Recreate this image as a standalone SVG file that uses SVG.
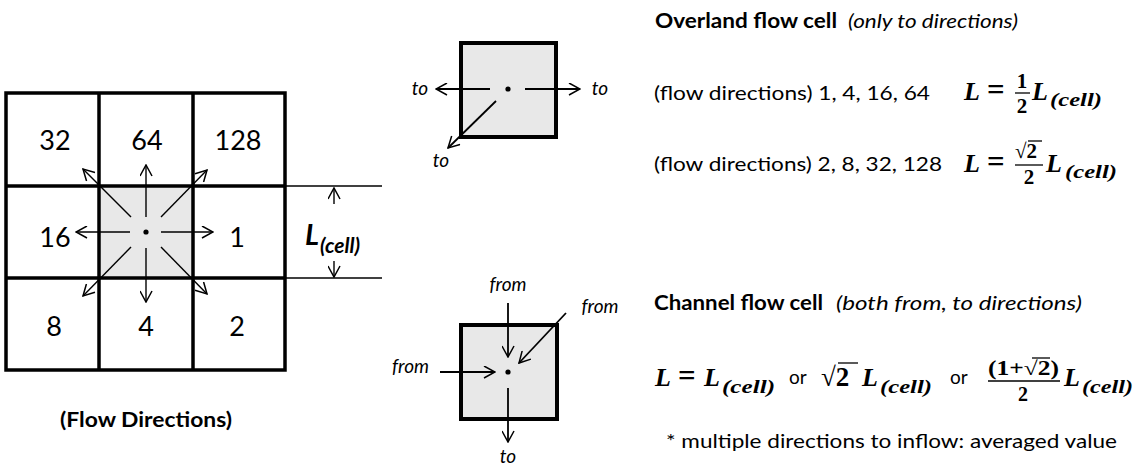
<svg xmlns="http://www.w3.org/2000/svg" width="1144" height="476" viewBox="0 0 1144 476">
<style>
.sans{font-family:Lato,"Liberation Sans",sans-serif;fill:#000}
.num{font-size:27px;text-anchor:middle}
.lbl{font-style:italic;font-size:19px}
.bold{font-weight:bold}
.ital{font-style:italic}
.math{font-family:"Liberation Serif","DejaVu Serif",serif;font-weight:bold;font-style:italic;fill:#000}
.mup{font-family:"Liberation Serif","DejaVu Serif",serif;font-weight:bold;fill:#000}
.grid{fill:none;stroke:#000;stroke-width:3.5}
.arr{fill:none;stroke:#000;stroke-width:1.4;marker-end:url(#ah)}
.arr2{fill:none;stroke:#000;stroke-width:1.8;marker-end:url(#ah)}
.cell{fill:#e8e8e8;stroke:#000;stroke-width:4}
.thin{fill:none;stroke:#000;stroke-width:1.3}
.bar{stroke:#000;stroke-width:1.3}
</style>
<defs>
<marker id="ah" viewBox="0 0 13 13" refX="12" refY="6.5" markerWidth="13" markerHeight="13" markerUnits="userSpaceOnUse" orient="auto">
<path d="M1,0.5 L12,6.5 L1,12.5" fill="none" stroke="#000" stroke-width="1.5"/>
</marker>
</defs>

<g id="grid">
<rect x="99" y="186" width="94" height="92" fill="#e8e8e8"/>
<rect class="grid" x="6" y="93" width="279" height="277" stroke-width="4"/>
<line class="grid" x1="99" y1="93" x2="99" y2="370"/>
<line class="grid" x1="193" y1="93" x2="193" y2="370"/>
<line class="grid" x1="6" y1="186" x2="285" y2="186"/>
<line class="grid" x1="6" y1="278" x2="285" y2="278"/>
<circle cx="146" cy="232" r="2.6" fill="#000"/>
<text class="sans num" x="55" y="150">32</text>
<text class="sans num" x="147" y="150">64</text>
<text class="sans num" x="238" y="150">128</text>
<text class="sans num" x="55" y="247">16</text>
<text class="sans num" x="237" y="247">1</text>
<text class="sans num" x="54" y="336">8</text>
<text class="sans num" x="146" y="336">4</text>
<text class="sans num" x="237" y="336">2</text>
<text class="sans bold" x="146" y="427" font-size="20" text-anchor="middle" textLength="172" lengthAdjust="spacingAndGlyphs">(Flow Directions)</text>
</g>

<g id="dimension">
<line class="thin" x1="285" y1="186" x2="382" y2="186"/>
<line class="thin" x1="285" y1="278" x2="382" y2="278"/>
<text class="sans bold ital" x="305" y="245" font-size="29">L</text>
<text class="sans bold ital" x="320" y="253" font-size="21">(cell)</text>
</g>

<g id="overland-cell">
<rect class="cell" x="461" y="43" width="95" height="94"/>
<circle cx="508" cy="89" r="2.6" fill="#000"/>
<text class="sans lbl" x="420" y="95" text-anchor="middle">to</text>
<text class="sans lbl" x="600" y="95" text-anchor="middle">to</text>
<text class="sans lbl" x="441" y="167" text-anchor="middle">to</text>
</g>

<g id="channel-cell">
<rect class="cell" x="461" y="325" width="96" height="94"/>
<circle cx="508" cy="372" r="2.6" fill="#000"/>
<text class="sans lbl" x="508" y="291" text-anchor="middle">from</text>
<text class="sans lbl" x="600" y="313" text-anchor="middle">from</text>
<text class="sans lbl" x="429" y="373" text-anchor="end">from</text>
<text class="sans lbl" x="508" y="463" text-anchor="middle">to</text>
</g>

<g id="connectors">
<line class="arr" x1="146" y1="217" x2="146" y2="165"/>
<line class="arr" x1="146" y1="248" x2="146" y2="302"/>
<line class="arr" x1="130" y1="232" x2="76" y2="232"/>
<line class="arr" x1="161" y1="232" x2="213" y2="232"/>
<line class="arr" x1="131" y1="217" x2="83" y2="169"/>
<line class="arr" x1="161" y1="217" x2="207" y2="170"/>
<line class="arr" x1="131" y1="247" x2="83" y2="296"/>
<line class="arr" x1="161" y1="247" x2="207" y2="294"/>
<line class="arr" x1="334" y1="204" x2="334" y2="188"/>
<line class="arr" x1="334" y1="261" x2="334" y2="277"/>
<line class="arr2" x1="490" y1="89" x2="436" y2="89"/>
<line class="arr2" x1="525" y1="89" x2="580" y2="89"/>
<line class="arr2" x1="496" y1="101" x2="448" y2="148"/>
<line class="arr2" x1="508" y1="303" x2="508" y2="357"/>
<line class="arr2" x1="566" y1="313" x2="519" y2="363"/>
<line class="arr2" x1="440" y1="372" x2="495" y2="372"/>
<line class="arr2" x1="508" y1="388" x2="508" y2="442"/>
</g>

<g id="overland-text">
<text class="sans bold" x="655" y="28" font-size="20" textLength="182" lengthAdjust="spacingAndGlyphs">Overland flow cell</text>
<text class="sans ital" x="848" y="28" font-size="20" textLength="170" lengthAdjust="spacingAndGlyphs">(only to directions)</text>
<text class="sans" x="654" y="100" font-size="20" textLength="276" lengthAdjust="spacingAndGlyphs">(flow directions) 1, 4, 16, 64</text>
<text class="math" x="964" y="100" font-size="26">L</text>
<text class="mup" x="987" y="100" font-size="31">=</text>
<text class="mup" x="1022" y="88" font-size="21" text-anchor="middle">1</text>
<line class="bar" x1="1015" y1="93" x2="1030" y2="93"/>
<text class="mup" x="1022" y="113" font-size="21" text-anchor="middle">2</text>
<text class="math" x="1032" y="100" font-size="26">L</text>
<text class="math" x="1050" y="106" font-size="19" textLength="52" lengthAdjust="spacingAndGlyphs">(cell)</text>

<text class="sans" x="654" y="171" font-size="20" textLength="288" lengthAdjust="spacingAndGlyphs">(flow directions) 2, 8, 32, 128</text>
<text class="math" x="964" y="172" font-size="26">L</text>
<text class="mup" x="987" y="172" font-size="31">=</text>
<text class="mup" x="1015" y="158" font-size="21">√2</text>
<line class="bar" x1="1028" y1="141" x2="1042" y2="141"/>
<line class="bar" x1="1015" y1="165" x2="1043" y2="165"/>
<text class="mup" x="1029" y="184" font-size="21" text-anchor="middle">2</text>
<text class="math" x="1046" y="172" font-size="26">L</text>
<text class="math" x="1065" y="178" font-size="19" textLength="52" lengthAdjust="spacingAndGlyphs">(cell)</text>
</g>

<g id="channel-text">
<text class="sans bold" x="654" y="310" font-size="20" textLength="169" lengthAdjust="spacingAndGlyphs">Channel flow cell</text>
<text class="sans ital" x="836" y="310" font-size="20" textLength="246" lengthAdjust="spacingAndGlyphs">(both from, to directions)</text>

<text class="math" x="655" y="386" font-size="26">L</text>
<text class="mup" x="678" y="386" font-size="31">=</text>
<text class="math" x="704" y="386" font-size="26">L</text>
<text class="math" x="722" y="393" font-size="19" textLength="53" lengthAdjust="spacingAndGlyphs">(cell)</text>
<text class="sans" x="789" y="384" font-size="19">or</text>
<text class="mup" x="821" y="386" font-size="27">√2</text>
<line class="bar" x1="838" y1="363" x2="858" y2="363"/>
<text class="math" x="862" y="386" font-size="26">L</text>
<text class="math" x="880" y="393" font-size="19" textLength="52" lengthAdjust="spacingAndGlyphs">(cell)</text>
<text class="sans" x="950" y="384" font-size="19">or</text>
<text class="mup" x="988" y="375" font-size="20" textLength="71" lengthAdjust="spacingAndGlyphs">(1+√2)</text>
<line class="bar" x1="1032" y1="358" x2="1050" y2="358"/>
<line class="bar" x1="988" y1="381" x2="1060" y2="381"/>
<text class="mup" x="1023" y="401" font-size="20" text-anchor="middle">2</text>
<text class="math" x="1064" y="386" font-size="26">L</text>
<text class="math" x="1082" y="393" font-size="19" textLength="51" lengthAdjust="spacingAndGlyphs">(cell)</text>

<text class="sans" x="666" y="448" font-size="20" textLength="451" lengthAdjust="spacingAndGlyphs">* multiple directions to inflow: averaged value</text>
</g>
</svg>
